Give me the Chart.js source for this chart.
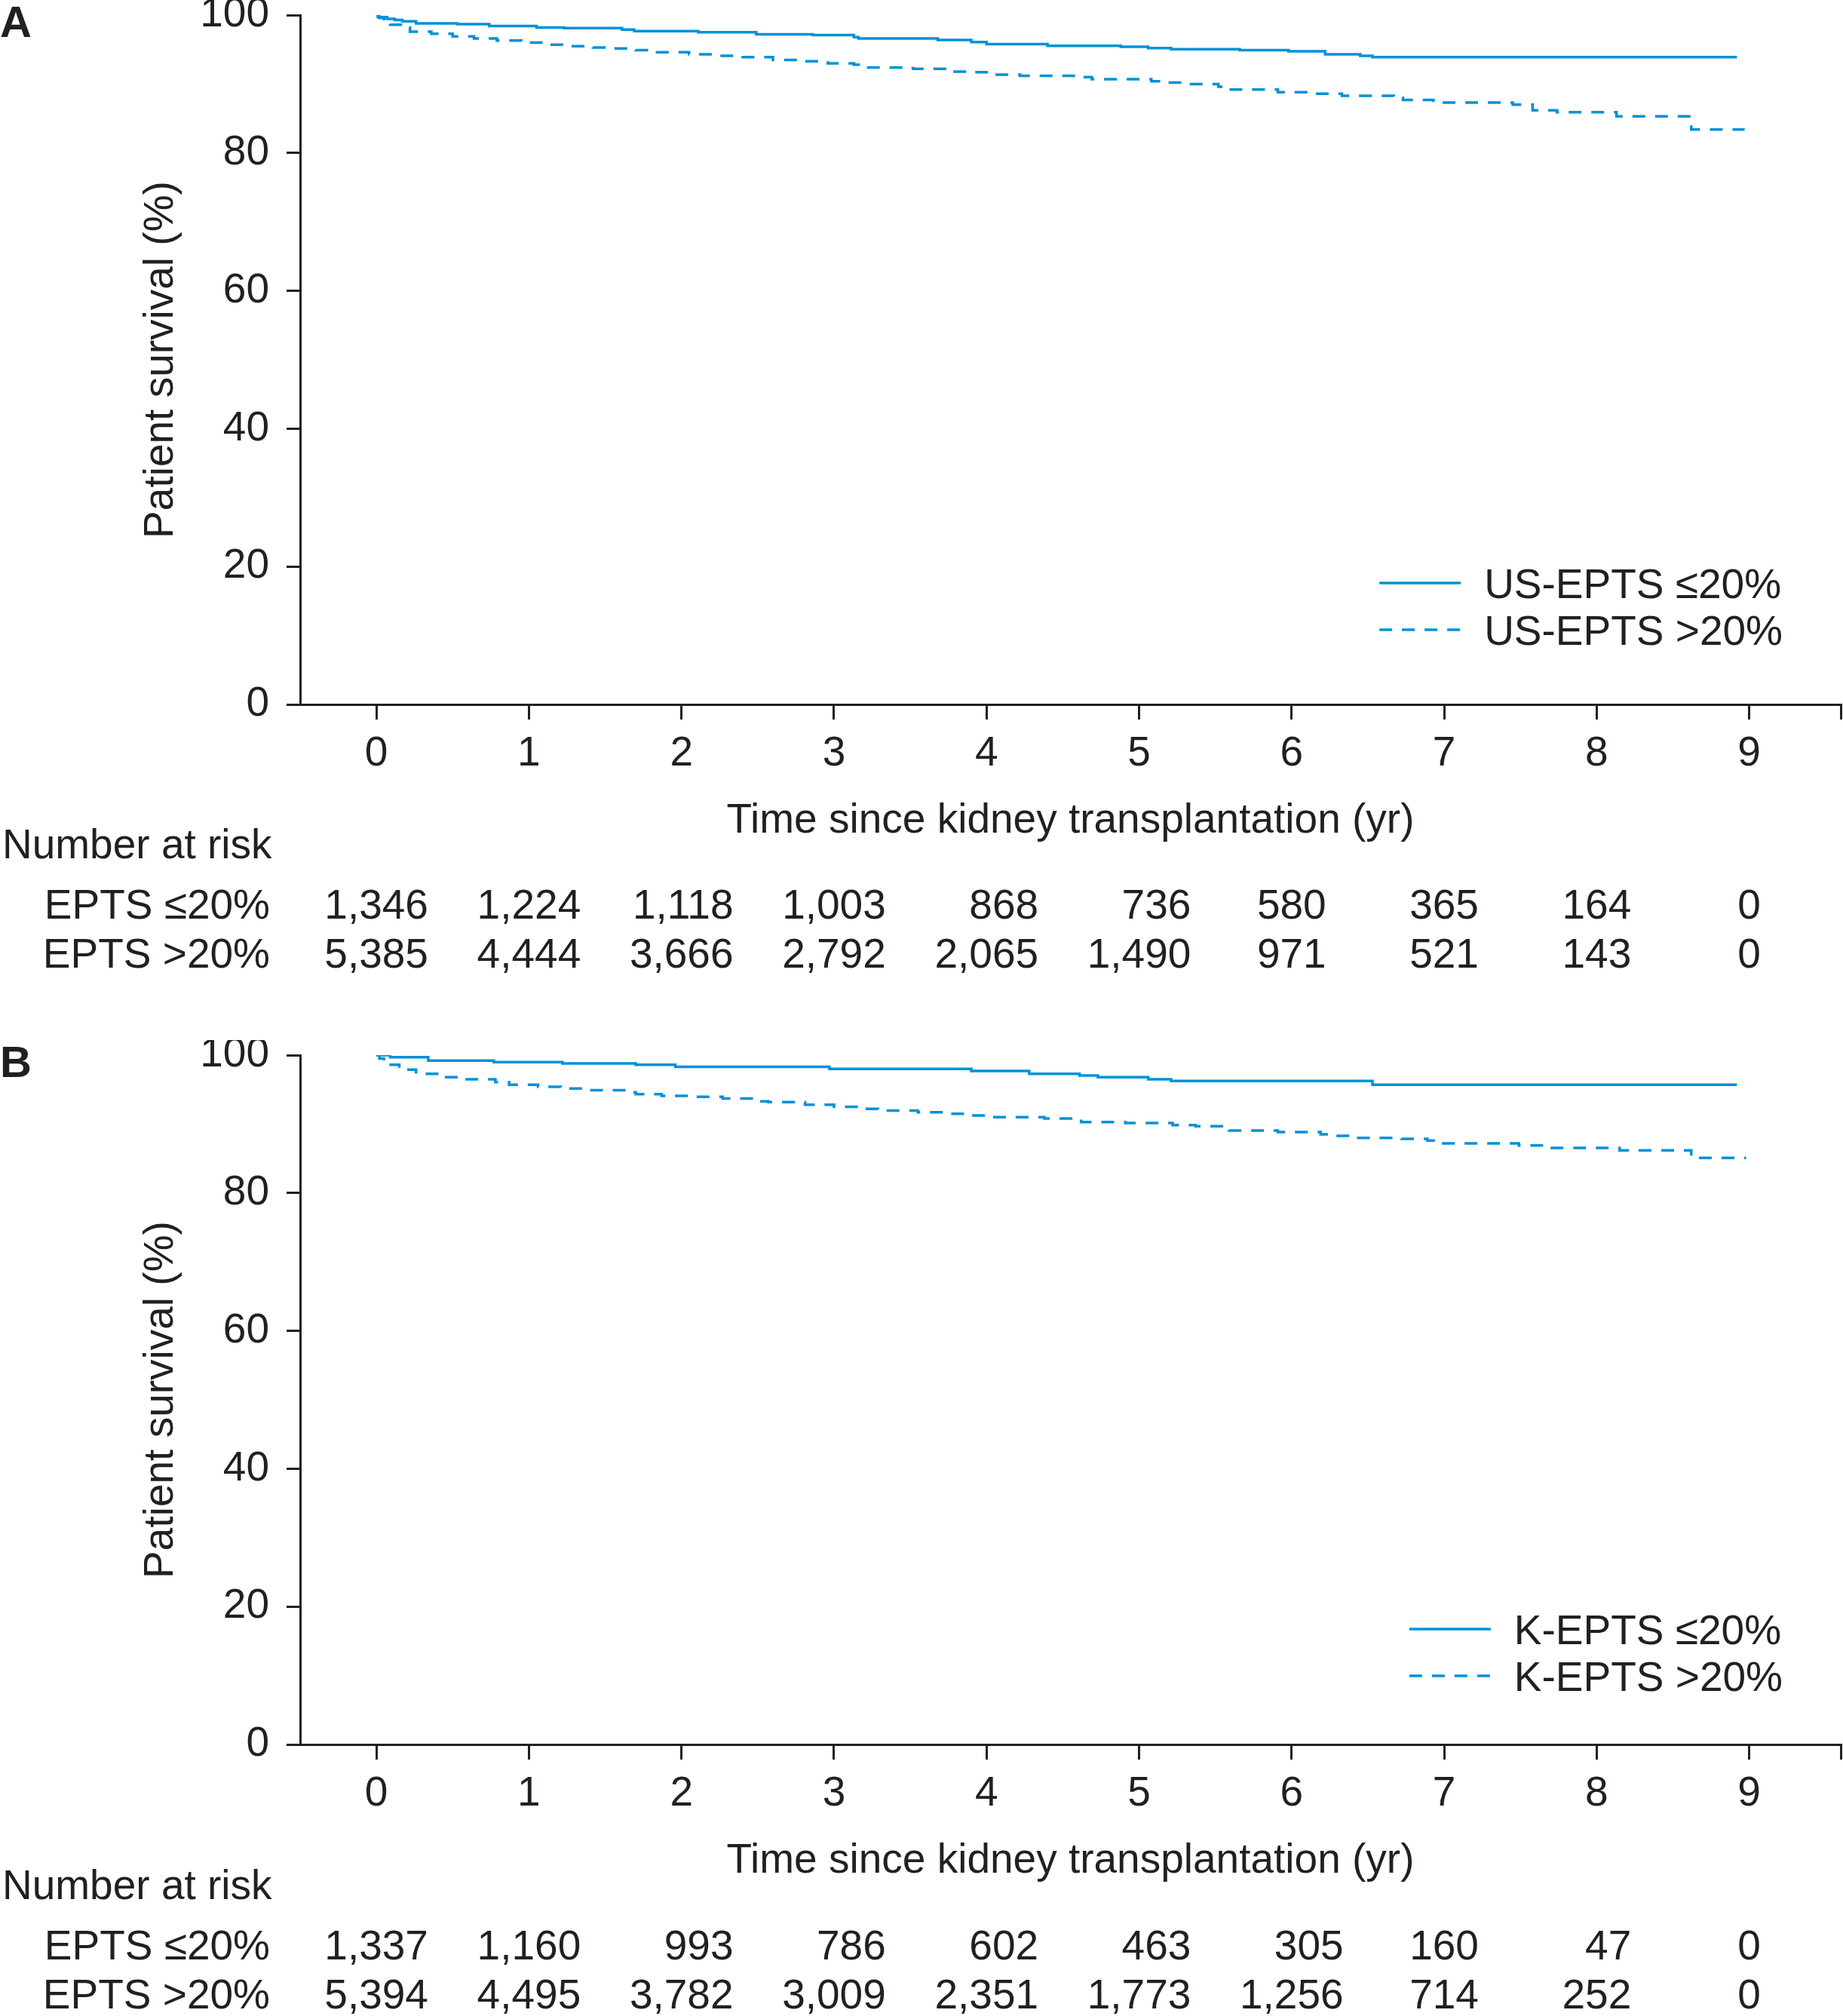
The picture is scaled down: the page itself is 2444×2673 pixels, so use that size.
<!DOCTYPE html>
<html>
<head>
<meta charset="utf-8">
<script src="https://cdn.jsdelivr.net/npm/chart.js@4.4.1/dist/chart.umd.min.js"></script>
<style>
  html, body { margin: 0; padding: 0; background: #fff; overflow: hidden; }
  canvas { display: block; }
</style>
</head>
<body>
<canvas id="panelA" width="2444" height="1379"></canvas>
<canvas id="panelB" width="2444" height="1379"></canvas>
<script>
// x ticks (years) and y ticks (%)
const years = [0, 1, 2, 3, 4, 5, 6, 7, 8, 9];
const axisEnd = 9.6;
const survTicks = [0, 20, 40, 60, 80, 100];

// Panel A: US-EPTS
const usLowTime = [0, 0.01, 0.07, 0.12, 0.17, 0.26, 0.53, 0.74, 1.05, 1.23, 1.61, 1.69, 2.11, 2.49, 2.86, 3.13, 3.16, 3.68, 3.90, 4.00, 4.40, 4.88, 5.06, 5.21, 5.66, 5.98, 6.22, 6.45, 6.53, 8.92];
const usLowSurv = [100, 99.7, 99.45, 99.3, 99.1, 98.8, 98.7, 98.4, 98.2, 98.1, 97.9, 97.67, 97.5, 97.2, 97.1, 96.8, 96.6, 96.4, 96.1, 95.8, 95.55, 95.4, 95.2, 95.05, 94.9, 94.75, 94.3, 94.1, 93.9, 93.9];
const usHighTime = [0, 0.02, 0.05, 0.09, 0.17, 0.22, 0.36, 0.50, 0.64, 0.79, 0.95, 1.10, 1.27, 1.42, 1.55, 1.70, 1.84, 2.05, 2.20, 2.40, 2.60, 2.80, 2.96, 3.13, 3.20, 3.47, 3.52, 3.75, 3.90, 4.05, 4.22, 4.59, 4.69, 5.08, 5.13, 5.28, 5.52, 5.56, 5.91, 6.15, 6.33, 6.67, 6.73, 6.93, 7.45, 7.58, 7.74, 8.13, 8.62, 8.97];
const usHighSurv = [100, 99.6, 99.2, 98.6, 98.2, 97.6, 97.3, 96.9, 96.6, 96.3, 96.0, 95.7, 95.5, 95.3, 95.15, 94.9, 94.6, 94.3, 94.1, 93.9, 93.5, 93.3, 93.0, 92.8, 92.4, 92.3, 92.2, 91.8, 91.7, 91.35, 91.2, 91.0, 90.7, 90.4, 90.2, 90.0, 89.6, 89.2, 88.8, 88.6, 88.3, 88.0, 87.7, 87.3, 87.0, 86.2, 85.9, 85.3, 83.4, 83.4];
const usRiskLow = [1346, 1224, 1118, 1003, 868, 736, 580, 365, 164, 0];
const usRiskHigh = [5385, 4444, 3666, 2792, 2065, 1490, 971, 521, 143, 0];

// Panel B: K-EPTS
const kLowTime = [0, 0.09, 0.34, 0.77, 1.22, 1.70, 1.96, 2.97, 3.90, 4.28, 4.61, 4.73, 5.06, 5.21, 6.53, 8.92];
const kLowSurv = [100, 99.7, 99.2, 99.0, 98.8, 98.6, 98.3, 98.0, 97.7, 97.3, 97.05, 96.8, 96.5, 96.25, 95.7, 95.7];
const kHighTime = [0, 0.02, 0.05, 0.08, 0.15, 0.26, 0.44, 0.54, 0.78, 0.87, 1.06, 1.21, 1.40, 1.64, 1.70, 1.87, 2.05, 2.27, 2.49, 2.57, 2.81, 3.00, 3.20, 3.29, 3.55, 3.75, 3.88, 4.03, 4.38, 4.62, 4.91, 5.22, 5.37, 5.59, 5.91, 6.19, 6.23, 6.37, 6.72, 6.89, 6.96, 7.49, 7.64, 8.15, 8.62, 8.98];
const kHighSurv = [100, 99.5, 99.0, 98.6, 97.9, 97.3, 96.8, 96.5, 96.1, 95.7, 95.4, 95.15, 94.9, 94.6, 94.35, 94.1, 93.95, 93.7, 93.3, 93.2, 92.8, 92.5, 92.2, 91.97, 91.7, 91.5, 91.25, 91.0, 90.8, 90.3, 90.15, 89.85, 89.7, 89.06, 88.85, 88.5, 88.3, 88.0, 87.85, 87.6, 87.2, 86.9, 86.55, 86.2, 85.1, 85.1];
const kRiskLow = [1337, 1160, 993, 786, 602, 463, 305, 160, 47, 0];
const kRiskHigh = [5394, 4495, 3782, 3009, 2351, 1773, 1256, 714, 252, 0];

const ink = "#231f20";
const blue = "#0091d8";
const family = '"Liberation Sans", Arial, Helvetica, sans-serif';
const baseFont = { family: family, size: 55, lineHeight: 1.2 };

const panelExtras = {
  id: "panelExtras",
  afterDraw(chart, args, opts) {
    const ctx = chart.ctx;
    const xScale = chart.scales.x;
    const shift = opts.tableShift || 0;
    ctx.save();
    ctx.fillStyle = ink;
    ctx.textBaseline = "alphabetic";

    ctx.font = "bold 58px " + family;
    ctx.textAlign = "left";
    ctx.fillText(opts.letter, 0, 49);

    // legend
    ctx.font = "55px " + family;
    const sets = chart.data.datasets;
    const widest = Math.max(...sets.map(d => ctx.measureText(d.label).width));
    const textLeft = opts.legendRight - widest;
    sets.forEach((d, i) => {
      const ly = opts.legendY[i];
      ctx.save();
      ctx.strokeStyle = d.borderColor;
      ctx.lineWidth = d.borderWidth;
      ctx.setLineDash(d.borderDash || []);
      ctx.beginPath();
      ctx.moveTo(textLeft - 139, ly);
      ctx.lineTo(textLeft - 31, ly);
      ctx.stroke();
      ctx.restore();
      ctx.fillText(d.label, textLeft, ly + 20);
    });

    // number at risk table
    const rowBase = [1218 + shift, 1283 + shift];
    ctx.textAlign = "left";
    ctx.fillText("Number at risk", 3, 1138 + shift);
    ctx.textAlign = "right";
    opts.rows.forEach((row, r) => ctx.fillText(row.label, 358, rowBase[r]));
    years.forEach((yr, i) => {
      const cells = opts.rows.map(row => row.values[i].toLocaleString("en-US"));
      const w = Math.max(...cells.map(c => ctx.measureText(c).width));
      const px = xScale.getPixelForValue(yr) + w / 2;
      cells.forEach((c, r) => ctx.fillText(c, px, rowBase[r]));
    });
    ctx.restore();
  },
};

function toPoints(times, surv) {
  return times.map((t, i) => ({ x: t, y: surv[i] }));
}

function makePanel(canvas, cfg) {
  const H = canvas.height;
  const xBoxHeight = 188;
  return new Chart(canvas, {
    type: "line",
    data: {
      datasets: [
        {
          label: cfg.lowLabel,
          data: toPoints(cfg.lowTime, cfg.lowSurv),
          borderColor: blue,
          borderWidth: 3.5,
          stepped: "before",
          pointRadius: 0,
          fill: false,
        },
        {
          label: cfg.highLabel,
          data: toPoints(cfg.highTime, cfg.highSurv),
          borderColor: blue,
          borderWidth: 3.5,
          borderDash: [17, 13],
          stepped: "before",
          pointRadius: 0,
          fill: false,
        },
      ],
    },
    options: {
      responsive: false,
      animation: false,
      devicePixelRatio: 1,
      layout: { padding: { left: 181, top: 20, right: 3, bottom: H - xBoxHeight - 934 } },
      plugins: {
        legend: { display: false },
        tooltip: { enabled: false },
        panelExtras: {
          letter: cfg.letter,
          legendRight: 2364,
          legendY: cfg.legendY,
          tableShift: cfg.tableShift,
          rows: [
            { label: "EPTS \u226420%", values: cfg.riskLow },
            { label: "EPTS >20%", values: cfg.riskHigh },
          ],
        },
      },
      scales: {
        x: {
          type: "linear",
          min: -0.5,
          max: axisEnd,
          afterBuildTicks: s => { s.ticks = years.concat([axisEnd]).map(v => ({ value: v })); },
          afterFit: s => { s.height = xBoxHeight; s.paddingLeft = 0; s.paddingRight = 0; },
          ticks: {
            color: ink,
            font: baseFont,
            padding: 13,
            maxRotation: 0,
            autoSkip: false,
            callback: v => (v === axisEnd ? "" : String(v)),
          },
          grid: { drawOnChartArea: false, tickLength: 20, color: ink, lineWidth: 3 },
          border: { display: true, color: ink, width: 3 },
          title: { display: true, text: "Time since kidney transplantation (yr)", color: ink, font: baseFont, padding: 0 },
        },
        y: {
          type: "linear",
          min: 0,
          max: 100,
          afterBuildTicks: s => { s.ticks = survTicks.map(v => ({ value: v })); },
          afterFit: s => { s.width = 217; s.paddingTop = 0; s.paddingBottom = 0; },
          ticks: { color: ink, font: baseFont, padding: 23 },
          grid: { drawOnChartArea: false, tickLength: 18, color: ink, lineWidth: 3 },
          border: { display: true, color: ink, width: 3 },
          title: { display: true, text: "Patient survival (%)", color: ink, font: baseFont, padding: 0 },
        },
      },
    },
    plugins: [panelExtras],
  });
}

makePanel(document.getElementById("panelA"), {
  letter: "A",
  lowLabel: "US-EPTS \u226420%",
  highLabel: "US-EPTS >20%",
  lowTime: usLowTime, lowSurv: usLowSurv,
  highTime: usHighTime, highSurv: usHighSurv,
  riskLow: usRiskLow, riskHigh: usRiskHigh,
  legendY: [773, 835],
  tableShift: 0,
});

makePanel(document.getElementById("panelB"), {
  letter: "B",
  lowLabel: "K-EPTS \u226420%",
  highLabel: "K-EPTS >20%",
  lowTime: kLowTime, lowSurv: kLowSurv,
  highTime: kHighTime, highSurv: kHighSurv,
  riskLow: kRiskLow, riskHigh: kRiskHigh,
  legendY: [781, 843],
  tableShift: 1,
});
</script>
</body>
</html>
